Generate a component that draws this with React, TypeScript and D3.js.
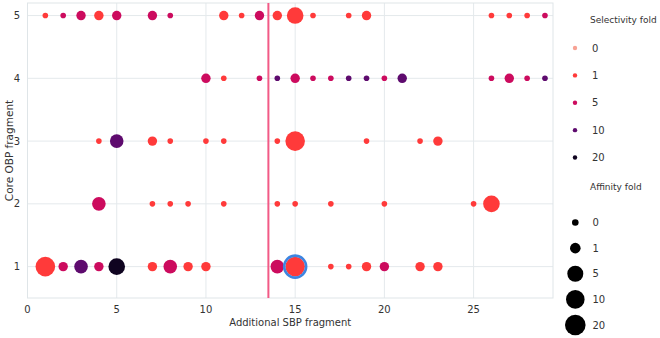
import * as d3 from "d3";

// one entry per fragment combination
const sbpFragment = [
  1, 2, 3, 4, 5, 7, 8, 11, 12, 13, 14, 15, 16, 18, 19, 26, 27, 28, 29,
  10, 11, 13, 14, 15, 16, 17, 18, 19, 20, 21, 26, 27, 28, 29,
  4, 5, 7, 8, 10, 11, 14, 15, 19, 22, 23,
  4, 7, 8, 9, 11, 14, 15, 17, 20, 25, 26,
  1, 2, 3, 4, 5, 7, 8, 9, 10, 14, 15, 17, 18, 19, 20, 22, 23,
];
const obpFragment = [
  5, 5, 5, 5, 5, 5, 5, 5, 5, 5, 5, 5, 5, 5, 5, 5, 5, 5, 5,
  4, 4, 4, 4, 4, 4, 4, 4, 4, 4, 4, 4, 4, 4, 4,
  3, 3, 3, 3, 3, 3, 3, 3, 3, 3, 3,
  2, 2, 2, 2, 2, 2, 2, 2, 2, 2, 2,
  1, 1, 1, 1, 1, 1, 1, 1, 1, 1, 1, 1, 1, 1, 1, 1, 1,
];
const selectivityFold = [
  1, 5, 5, 1, 5, 5, 5, 1, 1, 5, 1, 1, 1, 1, 1, 1, 1, 1, 5,
  5, 1, 5, 10, 5, 5, 5, 10, 10, 5, 10, 5, 5, 5, 10,
  1, 10, 1, 1, 1, 1, 1, 1, 1, 1, 1,
  5, 1, 1, 1, 1, 1, 1, 1, 1, 1, 1,
  1, 5, 10, 5, 20, 1, 5, 1, 1, 5, 1, 1, 1, 1, 5, 1, 1,
];
const affinityFold = [
  0, 0, 1, 1, 1, 1, 0, 1, 0, 1, 1, 10, 0, 0, 1, 0, 0, 0, 0,
  1, 0, 0, 0, 1, 0, 0, 0, 0, 0, 1, 0, 1, 0, 0,
  0, 5, 1, 0, 0, 0, 0, 20, 0, 0, 1,
  5, 0, 0, 0, 0, 0, 0, 0, 0, 0, 10,
  20, 1, 5, 1, 10, 1, 5, 1, 1, 5, 20, 0, 0, 1, 1, 1, 1,
];

const legendLevels = [0, 1, 5, 10, 20];
const xTicks = [0, 5, 10, 15, 20, 25];
const yTicks = [1, 2, 3, 4, 5];
const cutoff = 13.5;
const highlight = { sbp: 15, obp: 1 };

const W = 660;
const H = 338;
const PLOT = { left: 27.5, right: 553, top: 3, bottom: 298 };
const FONT = "'DejaVu Sans', sans-serif";
const TEXT = "#333";

export default function App() {
  const x = d3.scaleLinear().domain([0, 29.45]).range([PLOT.left, PLOT.right]);
  const y = d3.scaleLinear().domain([0.5, 5.2]).range([PLOT.bottom, PLOT.top]);
  const color = d3
    .scaleOrdinal<number, string>()
    .domain(legendLevels)
    .range(["#f7a294", "#ff3a3a", "#cc0b5e", "#5e0b6e", "#0f0420"]);
  const size = d3
    .scaleOrdinal<number, number>()
    .domain(legendLevels)
    .range([2.8, 4.7, 6.8, 8.3, 9.8]);
  const legendSize = d3
    .scaleOrdinal<number, number>()
    .domain(legendLevels)
    .range([3.3, 5.3, 8, 9.3, 10.3]);

  const points = sbpFragment.map((s, i) => ({
    sbp: s,
    obp: obpFragment[i],
    sel: selectivityFold[i],
    aff: affinityFold[i],
  }));

  const selY = d3.scalePoint<number>().domain(legendLevels).range([48, 157.5]);
  const affY = d3.scalePoint<number>().domain(legendLevels).range([222.5, 325]);

  return (
    <svg
      width={W}
      height={H}
      style={{ position: "absolute", left: 0, top: 0, background: "#fff" }}
      fontFamily={FONT}
    >
      {/* grid */}
      {xTicks.map((t) => (
        <line key={"gx" + t} x1={x(t)} x2={x(t)} y1={PLOT.top} y2={PLOT.bottom} stroke="#e4e9ec" strokeWidth={1} />
      ))}
      {yTicks.map((t) => (
        <line key={"gy" + t} x1={PLOT.left} x2={PLOT.right} y1={y(t)} y2={y(t)} stroke="#e4e9ec" strokeWidth={1} />
      ))}
      <rect
        x={PLOT.left}
        y={PLOT.top}
        width={PLOT.right - PLOT.left}
        height={PLOT.bottom - PLOT.top}
        fill="none"
        stroke="#dfe5e8"
      />

      {/* ticks */}
      {xTicks.map((t) => (
        <text key={"tx" + t} x={x(t)} y={313} textAnchor="middle" fontSize={10} fill={TEXT}>
          {t}
        </text>
      ))}
      {yTicks.map((t) => (
        <text key={"ty" + t} x={20} y={y(t)} dy="0.35em" textAnchor="end" fontSize={10} fill={TEXT}>
          {t}
        </text>
      ))}
      <text x={(PLOT.left + PLOT.right) / 2} y={326} textAnchor="middle" fontSize={10} fill={TEXT}>
        Additional SBP fragment
      </text>
      <text
        transform={`translate(9.5, ${(PLOT.top + PLOT.bottom) / 2}) rotate(-90)`}
        textAnchor="middle"
        dy="0.35em"
        fontSize={10.5}
        fill={TEXT}
      >
        Core OBP fragment
      </text>

      {/* cutoff */}
      <line x1={x(cutoff)} x2={x(cutoff)} y1={PLOT.top} y2={PLOT.bottom} stroke="#f25a86" strokeWidth={2} />

      {/* points */}
      {points.map((p, i) => (
        <circle key={i} cx={x(p.sbp)} cy={y(p.obp)} r={size(p.aff)} fill={color(p.sel)} />
      ))}
      <circle
        cx={x(highlight.sbp)}
        cy={y(highlight.obp)}
        r={11}
        fill="none"
        stroke="#3d85e0"
        strokeWidth={2.6}
      />

      {/* legend */}
      <text x={590} y={23} fontSize={9} fill={TEXT}>
        Selectivity fold
      </text>
      {legendLevels.map((v) => (
        <g key={"sl" + v}>
          <circle cx={575} cy={selY(v)} r={2.2} fill={color(v)} />
          <text x={592} y={selY(v)} dy="0.35em" fontSize={10} fill={TEXT}>
            {v}
          </text>
        </g>
      ))}
      <text x={590} y={189.5} fontSize={9} fill={TEXT}>
        Affinity fold
      </text>
      {legendLevels.map((v) => (
        <g key={"al" + v}>
          <circle cx={575.3} cy={affY(v)} r={legendSize(v)} fill="#000" />
          <text x={592.5} y={affY(v)} dy="0.35em" fontSize={10} fill={TEXT}>
            {v}
          </text>
        </g>
      ))}
    </svg>
  );
}
